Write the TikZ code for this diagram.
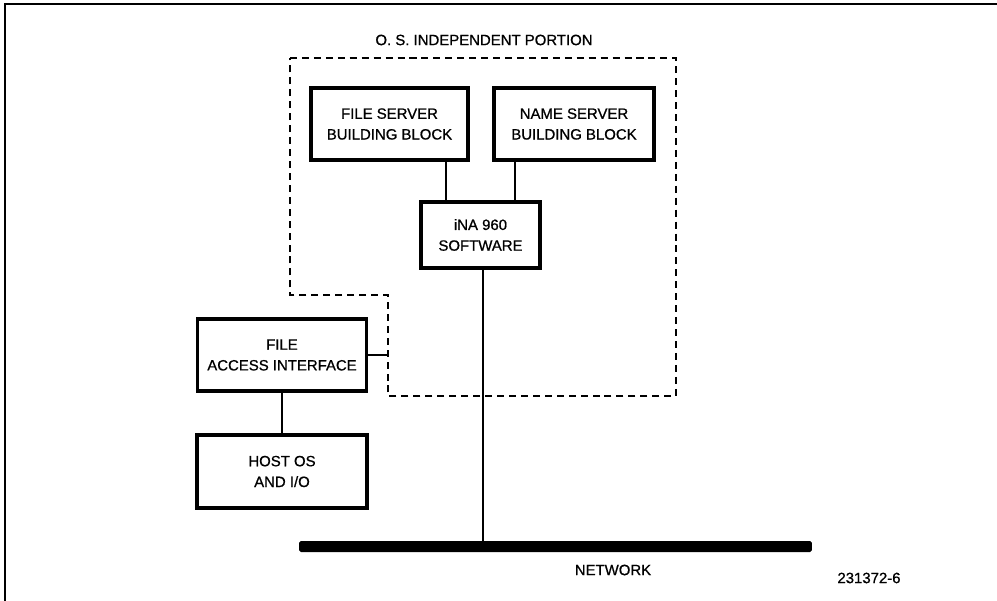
\documentclass[tikz,border=0pt]{standalone}
\usepackage{fontspec}
\setmainfont{Liberation Sans}[UprightFeatures={FakeBold=0.8}]
\usepackage{tikz}
\usetikzlibrary{positioning, calc}

\begin{document}
\begin{tikzpicture}[
    x=0.02cm, y=-0.02cm,
    every node/.style={font=\fontsize{8.5}{11.8}\selectfont},
    blockbox/.style={draw, line width=2.1pt, align=center, inner sep=0pt},
    conn/.style={line width=1.3pt},
    osline/.style={line width=1.2pt, dash pattern=on 4pt off 2.8pt},
]
\useasboundingbox (0,0) rectangle (997,601);

% Frame
\draw[line width=1.6pt] (5,601) -- (5,4) -- (997,4);

% O.S. independent portion
\node (osp) at (484,40) {O. S. INDEPENDENT PORTION};
\draw[osline] (290,58) -- (676,58) -- (676,396) -- (388,396) -- (388,295) -- (290,295) -- cycle;

% Building blocks
\node[blockbox, minimum width=3.14cm, minimum height=1.44cm] (fsb) at (389.5,124) {FILE SERVER\\BUILDING BLOCK};
\node[blockbox, minimum width=3.2cm, minimum height=1.44cm] (nsb) at (574,124) {NAME SERVER\\BUILDING BLOCK};

% iNA 960
\node[blockbox, line width=1.8pt, minimum width=2.38cm, minimum height=1.32cm] (ina) at (480.5,235) {iNA 960\\SOFTWARE};
\draw[conn] ($(ina.north west)!.22!(ina.north east)$) coordinate (fsbin) -- (fsbin |- fsb.south);
\draw[conn] ($(ina.north west)!.78!(ina.north east)$) coordinate (nsbin) -- (nsbin |- nsb.south);

% Host side
\node[blockbox, line width=1.8pt, minimum width=3.38cm, minimum height=1.44cm] (fai) at (282,355) {FILE\\ACCESS INTERFACE};
\coordinate (osedge) at (388,355);
\draw[conn] (fai.east) -- (osedge);
\node[blockbox, minimum width=3.4cm, minimum height=1.46cm] (host) at (282,471.5) {HOST OS\\AND I/O};
\draw[conn] (fai.south) -- (host.north);

% Network
\node[fill=black, rounded corners=1pt, minimum width=10.26cm, minimum height=0.22cm, inner sep=0pt] (net) at (555.5,546.5) {};
\draw[conn] ([xshift=0.05cm]ina.south) -- ([xshift=0.05cm]ina.south |- net.north);
\node (netlbl) at (613,570) {NETWORK};
\node (figno) at (869,578) {231372-6};

\end{tikzpicture}
\end{document}
